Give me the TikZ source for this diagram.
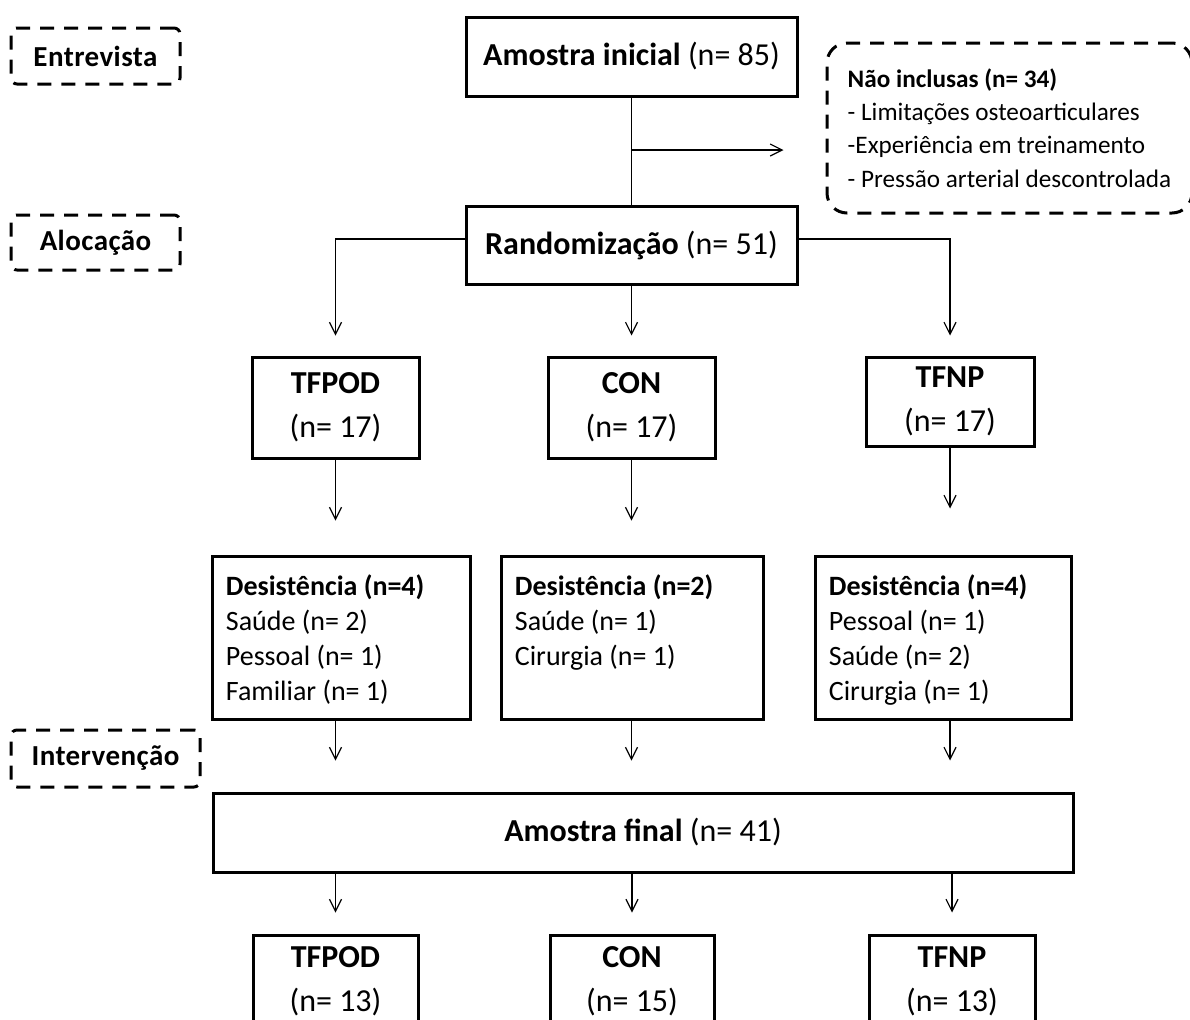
\documentclass[tikz,border=0pt]{standalone}
\usepackage{fontspec}
\setmainfont{Carlito}
\newfontfamily\phasefont[LetterSpace=1.5]{Carlito}
\usepackage{tikz}
\usetikzlibrary{arrows.meta,calc,positioning}

\tikzset{
  box/.style={draw,line width=1.5pt,inner sep=0pt,align=center,font=\fontsize{16pt}{22pt}\selectfont},
  dbox/.style={draw,line width=1.5pt,inner sep=0pt},
  dtext/.style={inner sep=0pt,anchor=north west,align=left,font=\fontsize{14pt}{17.5pt}\selectfont},
  phase/.style={draw,line width=1.5pt,dash pattern=on 7pt off 5pt,rounded corners=3pt,inner sep=0pt,font=\phasefont\fontsize{14.5pt}{16pt}\selectfont\bfseries},
  excl/.style={draw,line width=1.5pt,dash pattern=on 7pt off 5pt,rounded corners=10pt,inner sep=0pt,align=left,font=\fontsize{12.6pt}{16.7pt}\selectfont},
  flow/.style={line width=0.6pt,-{Straight Barb[length=6pt,width=6pt]}},
}

\begin{document}
\begin{tikzpicture}[x=0.5pt,y=-0.5pt]
\useasboundingbox (0,0) rectangle (1190,1019);
% phases
\node[phase,minimum width=84.5pt,minimum height=28pt] (entrev) at (95.5,56) {Entrevista};
\node[phase,minimum width=84.5pt,minimum height=27.5pt] (aloc) at (95.5,242.5) {Alocação};
\node[phase,minimum width=94.5pt,minimum height=28.5pt] (interv) at (105.5,758.5) {Intervenção};
% sample and exclusions
\node[box,minimum width=165.5pt,minimum height=39.5pt] (inicial) at (631.5,56.5) {\textbf{Amostra inicial} (n= 85)};
\node[box,minimum width=165.5pt,minimum height=39pt] (random) at (631.5,245) {\textbf{Randomização} (n= 51)};
\node[excl,minimum width=182.5pt,minimum height=85pt] (naoinc) at (1009.5,128) {\textbf{Não inclusas (n= 34)}\\- Limitações osteoarticulares\\-Experiência em treinamento\\- Pressão arterial descontrolada};
\coordinate (split) at (631.5,150);
\draw[line width=0.6pt] (inicial) -- (random);
\draw[flow,shorten >=21pt] (split) -- (split -| naoinc.west);
% groups after allocation
\node[box,minimum width=83.5pt,minimum height=50.5pt] (tfpod1) at (335.5,407.5) {\textbf{TFPOD}\\(n= 17)};
\node[box,minimum width=83.5pt,minimum height=50.5pt] (con1) at (631.5,407.5) {\textbf{CON}\\(n= 17)};
\node[box,minimum width=84pt,minimum height=44.5pt] (tfnp1) at (950,401.5) {\textbf{TFNP}\\(n= 17)};
\draw[flow,shorten >=10pt] ([yshift=3pt]random.west) -| (tfpod1);
\draw[flow,shorten >=10pt] (random) -- (con1);
\draw[flow,shorten >=10pt] ([yshift=3pt]random.east) -| (tfnp1);
% drop-outs
\node[dbox,minimum width=129pt,minimum height=81.5pt] (des1) at (341,637.5) {};
\node[dbox,minimum width=131pt,minimum height=81.5pt] (des2) at (632,637.5) {};
\node[dbox,minimum width=128pt,minimum height=81.5pt] (des3) at (943,637.5) {};
\node[dtext] (des1t) at ([shift={(7.5pt,-10pt)}]des1.north west) {\textbf{Desistência (n=4)}\\Saúde (n= 2)\\Pessoal (n= 1)\\Familiar (n= 1)};
\node[dtext] (des2t) at ([shift={(7.5pt,-10pt)}]des2.north west) {\textbf{Desistência (n=2)}\\Saúde (n= 1)\\Cirurgia (n= 1)};
\node[dtext] (des3t) at ([shift={(7.5pt,-10pt)}]des3.north west) {\textbf{Desistência (n=4)}\\Pessoal (n= 1)\\Saúde (n= 2)\\Cirurgia (n= 1)};
\draw[flow,shorten >=17pt] (tfpod1) -- (tfpod1 |- des1.north);
\draw[flow,shorten >=17pt] (con1) -- (con1 |- des2.north);
\draw[flow,shorten >=23pt] (tfnp1) -- (tfnp1 |- des3.north);
% final sample
\node[box,minimum width=430pt,minimum height=39.5pt] (final) at (643,832.5) {\textbf{Amostra final} (n= 41)};
\draw[flow,shorten >=15.5pt] (tfpod1 |- des1.south) -- (tfpod1 |- final.north);
\draw[flow,shorten >=15.5pt] (con1 |- des2.south) -- (con1 |- final.north);
\draw[flow,shorten >=15.5pt] (tfnp1 |- des3.south) -- (tfnp1 |- final.north);
\node[box,minimum width=82.5pt,minimum height=46.5pt] (tfpod2) at (335.5,981.5) {\textbf{TFPOD}\\(n= 13)};
\node[box,minimum width=82pt,minimum height=46.5pt] (con2) at (632,981.5) {\textbf{CON}\\(n= 15)};
\node[box,minimum width=83pt,minimum height=46.5pt] (tfnp2) at (952,981.5) {\textbf{TFNP}\\(n= 13)};
\draw[flow,shorten >=10.5pt] (final.south -| tfpod2) -- (tfpod2);
\draw[flow,shorten >=10.5pt] (final.south -| con2) -- (con2);
\draw[flow,shorten >=10.5pt] (final.south -| tfnp2) -- (tfnp2);
\end{tikzpicture}
\end{document}
